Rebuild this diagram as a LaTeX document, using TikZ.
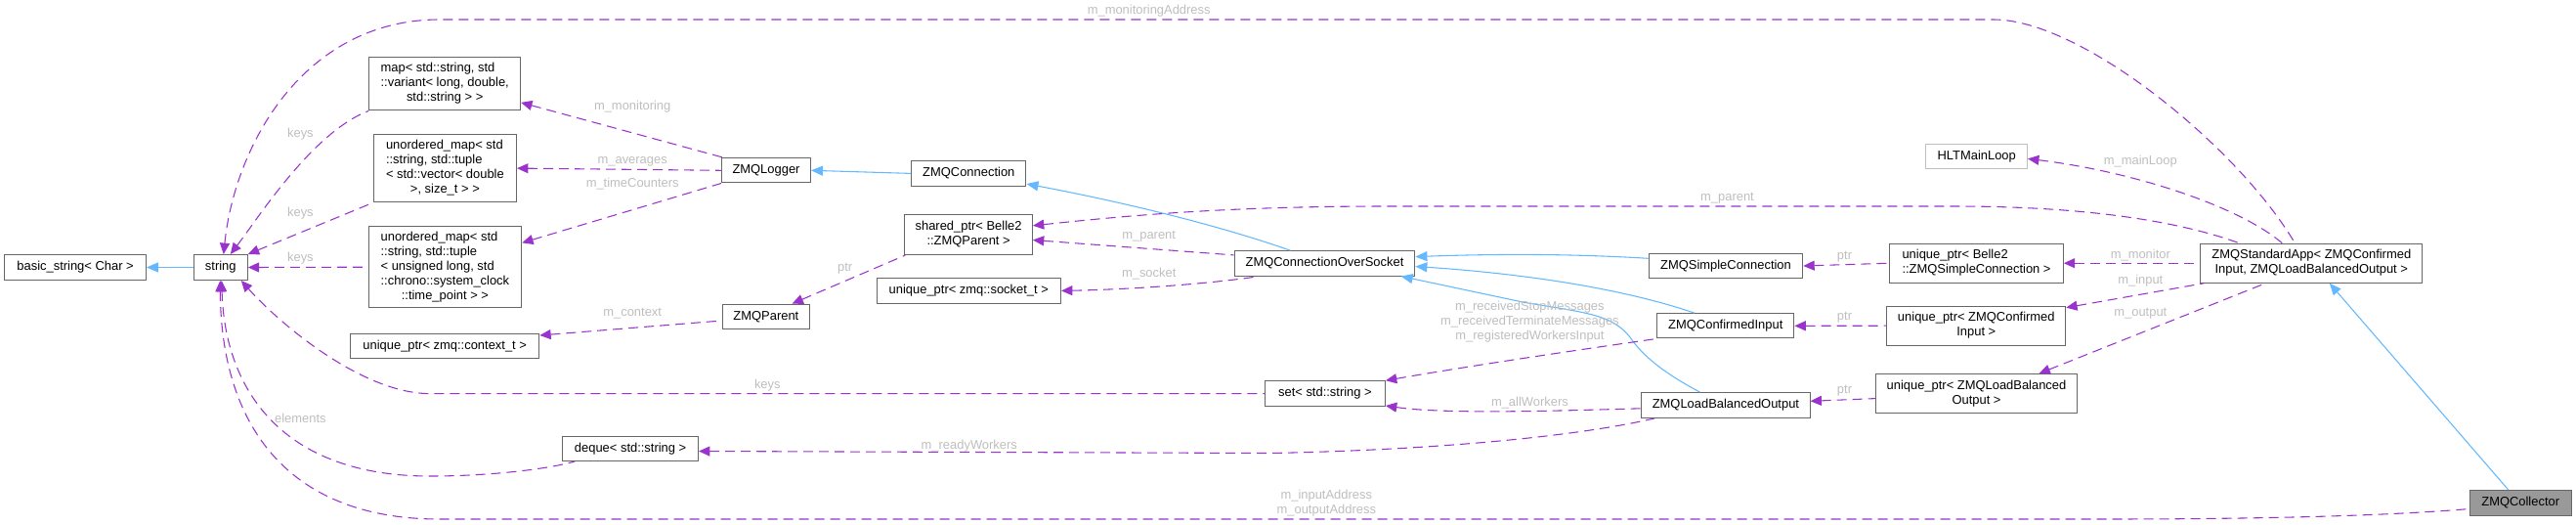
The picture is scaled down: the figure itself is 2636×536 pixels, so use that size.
\documentclass[tikz,border=0pt]{standalone}
\usepackage{fontspec}
\setmainfont{Liberation Sans}
\usetikzlibrary{arrows.meta,calc}
\definecolor{purp}{HTML}{9A32CD}
\definecolor{sblue}{HTML}{63B8FF}
\definecolor{nborder}{HTML}{666666}
\definecolor{hltborder}{HTML}{BFBFBF}
\definecolor{lblgray}{HTML}{BEBEBE}
\definecolor{collfill}{HTML}{999999}
\newcommand\lastl[1]{\multicolumn{1}{@{}c@{}}{#1}}
\begin{document}
\begin{tikzpicture}[x=0.75pt,y=-0.75pt,
  font=\fontsize{9.7}{11.2}\selectfont,
  cls/.style={draw=nborder, line width=0.8pt, fill=white, inner sep=0pt, align=center},
  sz/.style 2 args={minimum width=#1*0.75pt, minimum height=#2*0.75pt},
  mem/.style={draw=purp, line width=0.8pt, dash pattern=on 7.5pt off 4.5pt, {Triangle[length=8.5pt,width=7.5pt]}-},
  inh/.style={draw=sblue, line width=0.8pt, {Triangle[length=9pt,width=7.5pt]}-},
  lbl/.style={text=lblgray, inner sep=0pt, align=center},
]
\useasboundingbox (0,0) rectangle (2636,536);

% ---------- nodes ----------
\node[cls, sz={144.6}{26}] (bstr) at (77.1,273.5) {basic\_string< Char >};
\node[cls, sz={55}{26}] (str) at (225.8,273.5) {string};
\node[cls, sz={154.8}{54.7}] (map) at (455.2,85.5) {\begin{tabular}{@{}l@{}}map< std::string, std\\::variant< long, double,\\\lastl{std::string > >}\end{tabular}};
\node[cls, sz={146.3}{69.4}] (umapA) at (455.4,172.1) {\begin{tabular}{@{}l@{}}unordered\_map< std\\::string, std::tuple\\< std::vector< double\\\lastl{>, size\_t > >}\end{tabular}};
\node[cls, sz={156.6}{83.4}] (umapB) at (455.4,273.2) {\begin{tabular}{@{}l@{}}unordered\_map< std\\::string, std::tuple\\< unsigned long, std\\::chrono::system\_clock\\\lastl{::time\_point > >}\end{tabular}};
\node[cls, sz={193.2}{25.5}] (ctx) at (455.2,354) {unique\_ptr< zmq::context\_t >};
\node[cls, sz={138.8}{25.3}] (deque) at (645.1,458.8) {deque< std::string >};
\node[cls, sz={90.9}{25.3}] (logger) at (784,174.3) {ZMQLogger};
\node[cls, sz={89.6}{25.7}] (parent) at (783.9,324) {ZMQParent};
\node[cls, sz={117.3}{25.3}] (conn) at (991.3,177.4) {ZMQConnection};
\node[cls, sz={130.6}{40.7}] (shared) at (991.1,240.2) {\begin{tabular}{@{}l@{}}shared\_ptr< Belle2\\\lastl{::ZMQParent >}\end{tabular}};
\node[cls, sz={188.4}{25.3}] (sock) at (991.3,297.4) {unique\_ptr< zmq::socket\_t >};
\node[cls, sz={184.7}{25.3}] (zcos) at (1355.5,269.4) {ZMQConnectionOverSocket};
\node[cls, sz={123}{25.7}] (set) at (1355.9,402.6) {set< std::string >};
\node[cls, sz={157.6}{25.7}] (zsc) at (1766,272) {ZMQSimpleConnection};
\node[cls, sz={140.2}{25.3}] (zci) at (1765.8,333.3) {ZMQConfirmedInput};
\node[cls, sz={172.3}{25.7}] (zlbo) at (1765.9,414.5) {ZMQLoadBalancedOutput};
\node[cls, draw=hltborder, sz={103.6}{25.2}] (hlt) at (2022.7,160) {HLTMainLoop};
\node[cls, sz={177.6}{40}] (usc) at (2022.5,269.2) {\begin{tabular}{@{}l@{}}unique\_ptr< Belle2\\\lastl{::ZMQSimpleConnection >}\end{tabular}};
\node[cls, sz={182.8}{40}] (uci) at (2022.3,333.2) {\begin{tabular}{@{}l@{}}unique\_ptr< ZMQConfirmed\\\lastl{Input >}\end{tabular}};
\node[cls, sz={205.6}{40}] (ulbo) at (2022.5,402.6) {\begin{tabular}{@{}l@{}}unique\_ptr< ZMQLoadBalanced\\\lastl{Output >}\end{tabular}};
\node[cls, sz={227}{40}] (zsa) at (2365.3,269.2) {\begin{tabular}{@{}l@{}}ZMQStandardApp< ZMQConfirmed\\\lastl{Input, ZMQLoadBalancedOutput >}\end{tabular}};
\node[cls, fill=collfill, sz={103.6}{26}] (coll) at (2579.2,514.5) {ZMQCollector};

% ---------- inheritance edges ----------
\draw[inh] (bstr.east) -- (str.west);
\draw[inh] (logger.east) -- (conn.west);
\draw[inh] ($(conn.south east)+(0,-2.5)$) .. controls (1140,205) and (1240,228) .. ($(zcos.north)+(-35,0)$);
\draw[inh] ($(zcos.east)+(0,-6.8)$) .. controls (1520,260) and (1600,259) .. ($(zsc.west)+(0,-7.7)$);
\draw[inh] ($(zcos.east)+(0,3.1)$) .. controls (1560,280) and (1660,295) .. ($(zci.north west)+(38.7,0)$);
\draw[inh] ($(zcos.south east)+(-14.7,0)$) -- (1560,309.4) .. controls (1625,320) and (1650,322) .. (1668,345) .. controls (1685,370) and (1715,388) .. ($(zlbo.north)+(-26.4,0)$);
\draw[inh] ($(zsa.south)+(18.5,0)$) -- ($(coll.north)+(-12.5,0)$);

% ---------- member edges ----------
\draw[mem] ($(str.north)+(10,0)$) .. controls (265,222) and (320,135) .. (map.south west);
\draw[mem] (str.north east) -- (umapA.south west);
\draw[mem] (str.east) -- (umapB.west);
\draw[mem] ($(str.north)+(3,0)$) .. controls (240,150) and (310,20) .. (450,20) -- (2040,20) .. controls (2130,20) and (2290,150) .. ($(zsa.north)+(-17,0)$);
\draw[mem] ($(str.south east)+(-7,0)$) .. controls (285,330) and (370,402.6) .. (440,402.6) -- (set.west);
\draw[mem] ($(str.south)+(1,0)$) .. controls (230,400) and (290,487) .. (440,487) .. controls (500,487) and (560,480) .. ($(deque.south west)+(13,0)$);
\draw[mem] ($(str.south)+(-0.5,0)$) .. controls (226,430) and (290,531) .. (450,531) -- (2150,531) .. controls (2330,531) and (2450,527) .. ($(coll.west)+(0,6)$);
\draw[mem] ($(map.south east)+(0,-8.5)$) -- ($(logger.north west)+(2,0)$);
\draw[mem] (umapA.east) -- (logger.west);
\draw[mem] ($(umapB.north east)+(0,17.4)$) -- (logger.south west);
\draw[mem] ($(ctx.east)+(0,-11)$) -- ($(parent.west)+(0,4)$);
\draw[mem] ($(parent.north)+(26.7,0)$) -- ($(shared.south west)+(1,0)$);
\draw[mem] ($(shared.east)+(0,5.3)$) -- ($(zcos.north west)+(0,4.7)$);
\draw[mem] (sock.east) .. controls (1160,296) and (1240,290) .. ($(zcos.south west)+(26,0)$);
\draw[mem] ($(shared.east)+(0,-9.4)$) .. controls (1150,221) and (1250,211) .. (1420,211) -- (2000,211) .. controls (2150,211) and (2240,230) .. ($(zsa.north west)+(40,0)$);
\draw[mem] (set.north east) .. controls (1500,375) and (1600,360) .. (zci.south west);
\draw[mem] ($(set.south east)+(0,-1)$) .. controls (1480,424) and (1600,420) .. ($(zlbo.west)+(0,3.3)$);
\draw[mem] ($(deque.east)+(0,2.7)$) -- (1300,463.5) .. controls (1480,460) and (1620,445) .. ($(zlbo.south west)+(14,0)$);
\draw[mem] (zsc.east) -- (usc.west);
\draw[mem] (zci.east) -- (uci.west);
\draw[mem] ($(zlbo.east)+(0,-4.2)$) -- ($(ulbo.west)+(0,5)$);
\draw[mem] ($(hlt.east)+(0,2.4)$) .. controls (2180,175) and (2290,210) .. ($(zsa.north west)+(84,0)$);
\draw[mem] (usc.east) -- (zsa.west);
\draw[mem] ($(uci.north east)+(0,2)$) -- ($(zsa.south west)+(4,0)$);
\draw[mem] ($(ulbo.north)+(64,0)$) -- ($(zsa.south west)+(67,0)$);

% ---------- edge labels ----------
\node[lbl] (l1) at (307.4,136.8) {keys};
\node[lbl] (l2) at (307.4,218) {keys};
\node[lbl] (l3) at (307.4,264.3) {keys};
\node[lbl] (l4) at (307.4,427.4) {elements};
\node[lbl] (l5) at (647.2,108.7) {m\_monitoring};
\node[lbl] (l6) at (647.2,165.1) {m\_averages};
\node[lbl] (l7) at (647.2,187.7) {m\_timeCounters};
\node[lbl] (l8) at (647.2,320.7) {m\_context};
\node[lbl] (l9) at (864.6,274.5) {ptr};
\node[lbl] (l10) at (785.3,394.2) {keys};
\node[lbl] (l11) at (991.8,455.7) {m\_readyWorkers};
\node[lbl] (l12) at (1175.7,11.3) {m\_monitoringAddress};
\node[lbl] (l13) at (1175.7,242) {m\_parent};
\node[lbl] (l14) at (1175.7,280.3) {m\_socket};
\node[lbl] (l15) at (1767.5,202.4) {m\_parent};
\node[lbl] (l16) at (1565.4,329.2) {m\_receivedStopMessages\\m\_receivedTerminateMessages\\m\_registeredWorkersInput};
\node[lbl] (l17) at (1565.4,412.4) {m\_allWorkers};
\node[lbl] (l18) at (1357.3,515) {m\_inputAddress\\m\_outputAddress};
\node[lbl] (l19) at (1887.5,262.6) {ptr};
\node[lbl] (l20) at (1887.5,324.8) {ptr};
\node[lbl] (l21) at (1887.5,399.3) {ptr};
\node[lbl] (l22) at (2190.3,164.8) {m\_mainLoop};
\node[lbl] (l23) at (2190.3,260.9) {m\_monitor};
\node[lbl] (l24) at (2190.3,287.5) {m\_input};
\node[lbl] (l25) at (2190.3,320.7) {m\_output};
\end{tikzpicture}
\end{document}
